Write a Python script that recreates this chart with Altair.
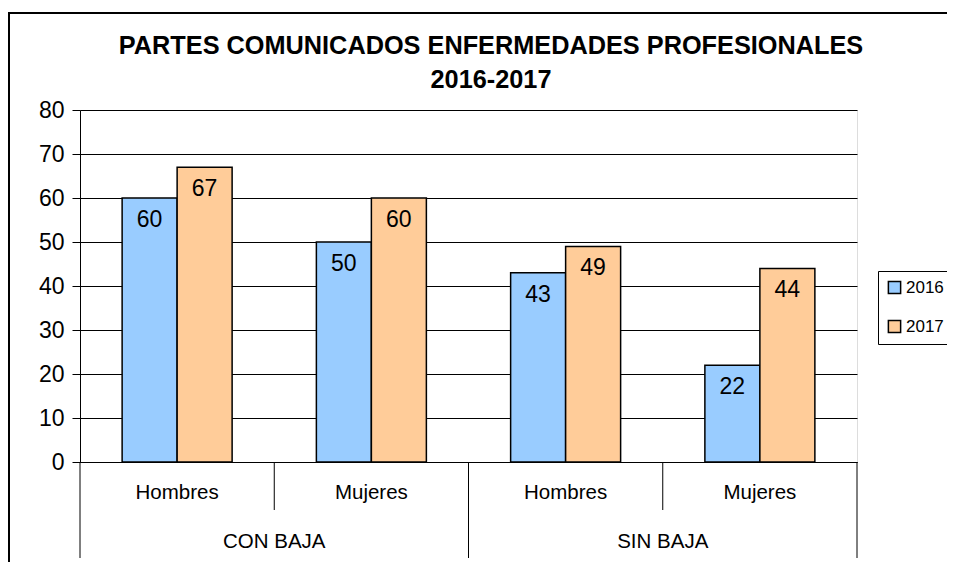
import altair as alt
import pandas as pd

grupos = ["CON BAJA", "CON BAJA", "SIN BAJA", "SIN BAJA"]
sexos = ["Hombres", "Mujeres", "Hombres", "Mujeres"]
years = ["2016", "2017"]
v2016 = [60, 50, 43, 22]
v2017 = [67, 60, 49, 44]
colores = ["#99CCFF", "#FFCC99"]
y_ticks = [0, 10, 20, 30, 40, 50, 60, 70, 80]
titulo = ["PARTES COMUNICADOS ENFERMEDADES PROFESIONALES", "2016-2017"]

cats = [f"{g}|{s}" for g, s in zip(grupos, sexos)]

rows = []
for c, g, s, a, b in zip(cats, grupos, sexos, v2016, v2017):
    rows.append(dict(cat=c, grupo=g, sexo=s, year=years[0], value=a))
    rows.append(dict(cat=c, grupo=g, sexo=s, year=years[1], value=b))
df = pd.DataFrame(rows)

cat_df = pd.DataFrame({"cat": cats, "grupo": grupos, "sexo": sexos})
first_of_group = cat_df.drop_duplicates("grupo", keep="first")
inner = cat_df[~cat_df.index.isin(first_of_group.index)]
last_cat = cat_df.iloc[[-1]]

W, H = 777, 352
FONT = "Liberation Sans"

xscale = alt.Scale(domain=cats, paddingInner=0, paddingOuter=0)
xaxis = alt.Axis(labels=False, ticks=False, domain=True, domainColor="black",
                 domainWidth=1, title=None, grid=False)
offscale = alt.Scale(domain=years, paddingInner=0, paddingOuter=0.766)
yscale = alt.Scale(domain=[0, 80], nice=False)
yaxis = alt.Axis(values=y_ticks, title=None, grid=True, gridColor="black",
                 gridWidth=1, domainColor="black", tickColor="black", tickSize=8,
                 labelFontSize=23, labelColor="black", labelPadding=8, labelFont=FONT)

bars = alt.Chart(df).mark_bar(stroke="black", strokeWidth=1.5).encode(
    x=alt.X("cat:N", scale=xscale, axis=xaxis),
    xOffset=alt.XOffset("year:N", scale=offscale),
    y=alt.Y("value:Q", scale=yscale, axis=yaxis),
    color=alt.Color("year:N", scale=alt.Scale(domain=years, range=colores),
                    legend=alt.Legend(title=None, orient="none", legendX=798, legendY=161,
                                      strokeColor="black", padding=8, rowPadding=20,
                                      symbolType="square", symbolSize=150,
                                      symbolStrokeColor="black", symbolStrokeWidth=1.5,
                                      labelFontSize=17, labelFont=FONT, labelColor="black",
                                      labelOffset=3, fillColor="white")),
)

labels = alt.Chart(df).mark_text(fontSize=23, font=FONT, color="black", dy=22,
                                 baseline="middle").encode(
    x=alt.X("cat:N", scale=xscale, axis=xaxis),
    xOffset=alt.XOffset("year:N", scale=offscale),
    y=alt.Y("value:Q", scale=yscale, axis=yaxis),
    text="value:Q",
)

short_sep = alt.Chart(inner).mark_rule(color="black", strokeWidth=1).encode(
    x=alt.X("cat:N", scale=xscale, axis=xaxis, bandPosition=0),
    y=alt.value(H), y2=alt.value(H + 48),
)
long_sep = alt.Chart(first_of_group).mark_rule(color="black", strokeWidth=1).encode(
    x=alt.X("cat:N", scale=xscale, axis=xaxis, bandPosition=0),
    y=alt.value(H), y2=alt.value(H + 96),
)
end_sep = alt.Chart(last_cat).mark_rule(color="black", strokeWidth=1).encode(
    x=alt.X("cat:N", scale=xscale, axis=xaxis, bandPosition=1),
    y=alt.value(H), y2=alt.value(H + 96),
)

sex_text = alt.Chart(cat_df).mark_text(fontSize=20.5, font=FONT, color="black",
                                       baseline="middle").encode(
    x=alt.X("cat:N", scale=xscale, axis=xaxis),
    y=alt.value(H + 31),
    text="sexo:N",
)
grp_text = alt.Chart(inner).mark_text(fontSize=20.5, font=FONT, color="black",
                                      baseline="middle").encode(
    x=alt.X("cat:N", scale=xscale, axis=xaxis, bandPosition=0),
    y=alt.value(H + 80),
    text="grupo:N",
)

title_df = pd.DataFrame({"t": titulo, "line": [0, 1]})
title1 = alt.Chart(title_df.iloc[[0]]).mark_text(
    fontSize=25.3, font=FONT, fontWeight="bold", color="black", baseline="middle").encode(
    x=alt.value(411), y=alt.value(-64), text="t:N")
title2 = alt.Chart(title_df.iloc[[1]]).mark_text(
    fontSize=25.3, font=FONT, fontWeight="bold", color="black", baseline="middle").encode(
    x=alt.value(411), y=alt.value(-30), text="t:N")

frame = alt.Chart(pd.DataFrame({"k": [0]})).mark_rect(
    fill=None, stroke="black", strokeWidth=2).encode(
    x=alt.value(-71), x2=alt.value(W + 140),
    y=alt.value(-97), y2=alt.value(H + 140),
)

chart = alt.layer(frame, bars, labels, short_sep, long_sep, end_sep, sex_text, grp_text,
                  title1, title2).properties(
    width=W, height=H,
    autosize=alt.AutoSizeParams(type="none"),
    padding={"left": 72, "top": 102, "right": 90, "bottom": 100},
).configure_view(stroke="#808080", strokeWidth=1.5).configure(font=FONT, background="white")

chart.save("out.html", embed_options={"renderer": "svg", "actions": False})
